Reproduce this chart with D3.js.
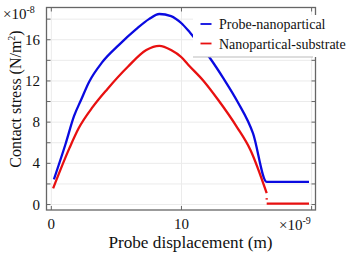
<!DOCTYPE html>
<html>
<head>
<meta charset="utf-8">
<script src="https://cdn.jsdelivr.net/npm/d3@7"></script>
<style>
  html, body { margin: 0; padding: 0; background: #fff; }
  body { width: 353px; height: 257px; overflow: hidden; }
  svg text { font-family: "Times New Roman", "Liberation Serif", serif; }
</style>
</head>
<body>
<div id="root"><svg></svg></div>
<script>
const width = 353, height = 257;

// series (x in 1e-9 m, y in 1e-8 N/m^2)
const probeX = [0.2, 1.1, 1.75, 2.3, 2.9, 3.9, 5.2, 6.5, 7.5, 8.3, 9.2, 10.0, 10.65, 12.2, 13.2, 14.3, 15.5, 16.55, 19.8];
const probeY = [2.45, 5.9, 8.6, 10.2, 11.9, 13.8, 15.5, 17.0, 18.0, 18.5, 18.3, 17.6, 16.7, 14.2, 12.3, 10.0, 6.9, 2.2, 2.2];

const subX = [0.14, 1.4, 2.1, 3.2, 4.3, 5.9, 7.3, 8.3, 9.2, 10.0, 10.5, 11.7, 12.8, 14.25, 15.3, 16.55];
const subY = [1.57, 5.5, 7.4, 9.5, 11.2, 13.4, 15.0, 15.4, 15.0, 14.3, 13.6, 12.0, 10.2, 7.55, 5.3, 1.1];
const subDotX = [16.55, 16.55];
const subDotY = [0.62, 0.48];
const subTailX = [16.55, 19.8];
const subTailY = [0.08, 0.08];

const seriesNames = ['Probe-nanopartical', 'Nanopartical-substrate'];
const seriesColors = ['#0a0ae0', '#e81010'];

const xTicks = [0, 10, 20];
const xTickLabels = ['0', '10', ''];
const yTicks = [0, 2, 4, 6, 8, 10, 12, 14, 16, 18];
const yTickLabels = [0, 4, 8, 12, 16];

const pLeft = 46.5, pRight = 315.5, pTop = 7.5, pBottom = 210;
const serif = '"Times New Roman", "Liberation Serif", serif';

const x = d3.scaleLinear().domain([-0.37, 20.3]).range([pLeft, pRight]);
const y = d3.scaleLinear().domain([-0.53, 19.13]).range([pBottom, pTop]);

const svg = d3.select('#root').select('svg')
    .attr('width', width)
    .attr('height', height);

// grid
const grid = svg.append('g').attr('stroke', '#ebebeb').attr('stroke-width', 1);
grid.selectAll('line.h')
    .data(yTicks)
    .enter()
    .append('line')
    .attr('x1', pLeft).attr('x2', pRight)
    .attr('y1', d => y(d)).attr('y2', d => y(d));
grid.selectAll('line.v')
    .data(xTicks)
    .enter()
    .append('line')
    .attr('y1', pTop).attr('y2', pBottom)
    .attr('x1', d => x(d)).attr('x2', d => x(d));

// curves
const zip = (a, b) => a.map((v, i) => [v, b[i]]);
const smooth = d3.line()
    .x(d => x(d[0]))
    .y(d => y(d[1]))
    .curve(d3.curveMonotoneX);
const straight = d3.line()
    .x(d => x(d[0]))
    .y(d => y(d[1]));

svg.append('path')
    .datum(zip(probeX, probeY))
    .attr('d', smooth)
    .attr('fill', 'none')
    .attr('stroke', seriesColors[0])
    .attr('stroke-width', 2.3);

svg.append('path')
    .datum(zip(subX, subY))
    .attr('d', smooth)
    .attr('fill', 'none')
    .attr('stroke', seriesColors[1])
    .attr('stroke-width', 2.3);

[zip(subDotX, subDotY), zip(subTailX, subTailY)].forEach(seg => {
    svg.append('path')
        .datum(seg)
        .attr('d', straight)
        .attr('fill', 'none')
        .attr('stroke', seriesColors[1])
        .attr('stroke-width', 2.3);
});

// frame + inward ticks
const axisColor = '#666';
svg.append('rect')
    .attr('x', pLeft).attr('y', pTop)
    .attr('width', pRight - pLeft).attr('height', pBottom - pTop)
    .attr('fill', 'none')
    .attr('stroke', axisColor)
    .attr('stroke-width', 1.3);

const ticks = svg.append('g').attr('stroke', axisColor).attr('stroke-width', 1);
yTicks.forEach(t => {
    ticks.append('line').attr('x1', pLeft).attr('x2', pLeft + 4).attr('y1', y(t)).attr('y2', y(t));
    ticks.append('line').attr('x1', pRight).attr('x2', pRight - 4).attr('y1', y(t)).attr('y2', y(t));
});
xTicks.forEach(t => {
    ticks.append('line').attr('y1', pBottom).attr('y2', pBottom - 4).attr('x1', x(t)).attr('x2', x(t));
    ticks.append('line').attr('y1', pTop).attr('y2', pTop + 4).attr('x1', x(t)).attr('x2', x(t));
});

// tick labels
svg.append('g')
    .selectAll('text')
    .data(yTickLabels)
    .enter()
    .append('text')
    .attr('x', 40)
    .attr('y', d => y(d) + 5)
    .attr('text-anchor', 'end')
    .style('font-family', serif)
    .attr('font-size', 15)
    .attr('fill', '#111')
    .text(d => d);

svg.append('g')
    .selectAll('text')
    .data(xTicks)
    .enter()
    .append('text')
    .attr('x', d => x(d))
    .attr('y', 229)
    .attr('text-anchor', 'middle')
    .style('font-family', serif)
    .attr('font-size', 15)
    .attr('fill', '#111')
    .text((d, i) => xTickLabels[i]);

// exponents
const expY = svg.append('text')
    .attr('x', 3).attr('y', 19)
    .style('font-family', serif).attr('font-size', 15).attr('fill', '#111');
expY.append('tspan').text('\u00d710');
expY.append('tspan').attr('font-size', 10).attr('dy', -6).text('-8');

const expX = svg.append('text')
    .attr('x', 279).attr('y', 230)
    .style('font-family', serif).attr('font-size', 15).attr('fill', '#111');
expX.append('tspan').text('\u00d710');
expX.append('tspan').attr('font-size', 10).attr('dy', -6).text('-9');

// axis titles
svg.append('text')
    .attr('x', 190.5)
    .attr('y', 248)
    .attr('text-anchor', 'middle')
    .style('font-family', serif)
    .attr('font-size', 17.2)
    .attr('fill', '#111')
    .text('Probe displacement (m)');

const yt = svg.append('text')
    .attr('transform', 'translate(21,99) rotate(-90)')
    .attr('text-anchor', 'middle')
    .style('font-family', serif)
    .attr('font-size', 16)
    .attr('fill', '#111');
yt.append('tspan').text('Contact stress (N/m');
yt.append('tspan').attr('font-size', 10).attr('dy', -6).text('2');
yt.append('tspan').attr('dy', 6).text(')');

// legend
const lg = svg.append('g');
lg.append('rect')
    .attr('x', 193).attr('y', 15)
    .attr('width', 160).attr('height', 42)
    .attr('fill', '#fff');
lg.append('line')
    .attr('x1', 193).attr('x2', 313)
    .attr('y1', 57).attr('y2', 57)
    .attr('stroke', '#bbb').attr('stroke-width', 1);
seriesNames.forEach((name, i) => {
    const ly = 24 + i * 19.5;
    lg.append('line')
        .attr('x1', 200.5).attr('x2', 211.5)
        .attr('y1', ly).attr('y2', ly)
        .attr('stroke', seriesColors[i])
        .attr('stroke-width', 1.8);
    lg.append('text')
        .attr('x', 219)
        .attr('y', ly + 5)
        .style('font-family', serif)
        .attr('font-size', 14)
        .attr('fill', '#111')
        .text(name);
});
</script>
</body>
</html>
